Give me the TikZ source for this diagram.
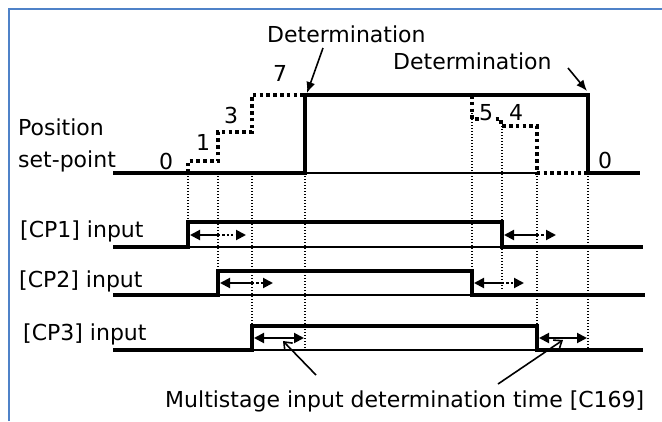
\documentclass[tikz,border=0pt]{standalone}
\usepackage{fontspec}
\setmainfont{DejaVu Sans}
\usepackage{tikz}
\usetikzlibrary{arrows.meta}
\definecolor{cFrame}{HTML}{4F82C8}

\begin{document}
\begin{tikzpicture}[x=1pt, y=-1pt,
   font=\fontsize{22}{24}\selectfont,
   lbl/.style={anchor=base west, inner sep=0pt},
   num/.style={anchor=base, inner sep=0pt},
   sig/.style={line width=3.6pt, line join=miter},
   bus/.style={line width=1.5pt},
   stepdot/.style={line width=3.6pt, dash pattern=on 3.6pt off 3.2pt},
   guide/.style={line width=1.4pt, dash pattern=on 1.4pt off 1.6pt},
   solidpart/.style={line width=2pt, {Triangle[length=10pt,width=10pt]}-},
   dotpart/.style={line width=2pt, dash pattern=on 2.2pt off 2.2pt, -{Triangle[length=10pt,width=10pt]}},
   dimarr/.style={line width=2pt, {Triangle[length=10pt,width=10pt]}-{Triangle[length=10pt,width=10pt]}},
   callout/.style={line width=1.6pt, -{Latex[length=11pt,width=9pt]}},
   pointer/.style={line width=1.6pt, -{Straight Barb[length=7pt,width=11pt]}}]
  \useasboundingbox (0,0) rectangle (662,421);
  \draw[cFrame, line width=2.4pt] (9,421) -- (9,9) -- (662,9);

  % position set-point
  \node[lbl] (pos) at (18,135) {Position};
  \node[lbl] (setp) at (18,167) {set-point};
  \draw[bus] (305,173) -- (537,173);
  \draw[sig] (113,173) -- (305,173) -- (305,95) -- (588,95) -- (588,173) -- (640,173);
  \draw[stepdot] (188,173) -- (188,161) -- (218,161) -- (218,132) -- (252,132)
     -- (252,95) -- (466,95);
  \draw[stepdot] (472,95) -- (472,119) -- (501,119) -- (501,126) -- (537,126)
     -- (537,173) -- (588,173);
  \node[num] (v0) at (166,169) {0};
  \node[num] (v1) at (203,150) {1};
  \node[num] (v3) at (231,123) {3};
  \node[num] (v7) at (280,81) {7};
  \node[num, fill=white, inner sep=0.5pt] (v5) at (486,120) {5};
  \node[num] (v4) at (516,120) {4};
  \node[num] (v0b) at (605,168) {0};

  \node[lbl] (det1) at (267,42) {Determination};
  \node[lbl] (det2) at (393,69) {Determination};
  \coordinate (det1s) at (323,48);  \coordinate (det1e) at (307,93);
  \coordinate (det2s) at (568,68);  \coordinate (det2e) at (587,91);
  \draw[callout] (det1s) -- (det1e);
  \draw[callout] (det2s) -- (det2e);

  % guide lines
  \foreach \x/\ya/\yb in {188/173/222, 218/173/271, 252/173/326, 305/173/350,
                          472/113/295, 502/126/289, 537/173/350, 588/173/348}
    \draw[guide] (\x,\ya) -- (\x,\yb);

  % [CP1]
  \node[lbl] (cp1) at (20,237) {[CP1] input};
  \draw[bus] (188,247) -- (502,247);
  \draw[sig] (113,247) -- (188,247) -- (188,222) -- (502,222) -- (502,247) -- (643,247);
  \draw[solidpart] (190,235) -- (218,235);  \draw[dotpart] (218,235) -- (246,235);
  \draw[solidpart] (504,235) -- (537,235);  \draw[dotpart] (537,235) -- (556,235);

  % [CP2]
  \node[lbl] (cp2) at (19,287) {[CP2] input};
  \draw[bus] (218,295) -- (472,295);
  \draw[sig] (113,295) -- (218,295) -- (218,271) -- (472,271) -- (472,295) -- (645,295);
  \draw[solidpart] (220,283) -- (252,283);  \draw[dotpart] (252,283) -- (273,283);
  \draw[solidpart] (474,283) -- (502,283);  \draw[dotpart] (502,283) -- (524,283);

  % [CP3]
  \node[lbl] (cp3) at (23,340) {[CP3] input};
  \draw[bus] (252,350) -- (537,350);
  \draw[sig] (113,350) -- (252,350) -- (252,326) -- (537,326) -- (537,350) -- (643,350);
  \draw[dimarr] (254,338) -- (304,338);
  \draw[dimarr] (539,338) -- (587,338);

  \node[lbl] (note) at (165,407) {Multistage input determination time [C169]};
  \coordinate (noteL) at (316,375);  \coordinate (tgtL) at (283,341);
  \coordinate (noteR) at (498,384);  \coordinate (tgtR) at (563,340);
  \draw[pointer] (noteL) -- (tgtL);
  \draw[pointer] (noteR) -- (tgtR);
\end{tikzpicture}
\end{document}
